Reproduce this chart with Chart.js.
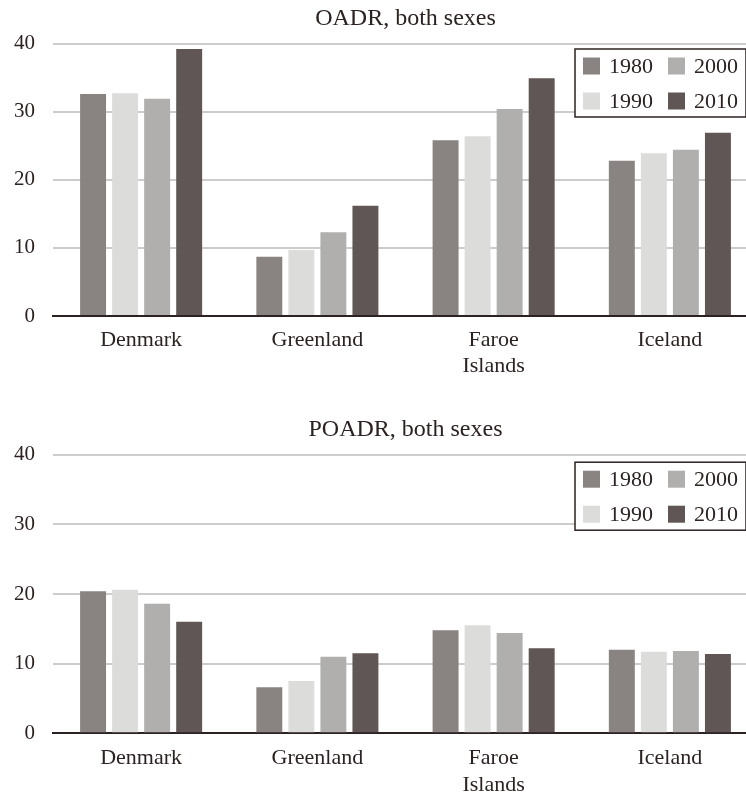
<!DOCTYPE html>
<html>
<head>
<meta charset="utf-8">
<title>OADR / POADR</title>
<script src="https://cdn.jsdelivr.net/npm/chart.js@4.4.1/dist/chart.umd.min.js"></script>
<style>
  html, body { margin: 0; padding: 0; background: #fff; overflow: hidden; width: 746px; height: 796px; }
  .wrap { position: absolute; left: 0; width: 760px; }
  #top { top: 0; height: 382px; }
  #bottom { top: 410px; height: 386px; }
</style>
</head>
<body>
<div class="wrap" id="top"><canvas id="oadr"></canvas></div>
<div class="wrap" id="bottom"><canvas id="poadr"></canvas></div>

<script>
// categories and series
const countries = ['Denmark', 'Greenland', ['Faroe', 'Islands'], 'Iceland'];
const years = ['1980', '1990', '2000', '2010'];
const colors = ['#898382', '#dcdcdb', '#b0afae', '#5f5655'];

const oadr1980 = [32.6, 8.7, 25.8, 22.8];
const oadr1990 = [32.7, 9.7, 26.4, 23.9];
const oadr2000 = [31.9, 12.3, 30.4, 24.4];
const oadr2010 = [39.2, 16.2, 34.9, 26.9];

const poadr1980 = [20.4, 6.6, 14.8, 12.0];
const poadr1990 = [20.6, 7.5, 15.5, 11.7];
const poadr2000 = [18.6, 11.0, 14.4, 11.8];
const poadr2010 = [16.0, 11.5, 12.2, 11.4];

const yTicks = [0, 10, 20, 30, 40];

const FONT = '"Liberation Serif", "DejaVu Serif", serif';
const INK = '#2b2221';

// legend box: two columns, 1980/2000 on top, 1990/2010 below
const boxLegend = {
  id: 'boxLegend',
  afterDraw(chart, args, opts) {
    const c = chart.ctx;
    const a = chart.chartArea;
    const w = 171, h = opts.h;
    const x0 = a.right - 12 - w, y0 = a.top + opts.dy;
    c.save();
    c.strokeStyle = INK;
    c.lineWidth = 1.5;
    c.fillStyle = '#fff';
    c.fillRect(x0, y0, w, h);
    c.strokeRect(x0, y0, w, h);
    c.font = '22px ' + FONT;
    c.textBaseline = 'middle';
    const order = [0, 2, 1, 3];
    order.forEach((di, k) => {
      const col = k % 2, row = Math.floor(k / 2);
      const sx = x0 + 8 + col * 85;
      const sy = y0 + 17 + row * 35;
      const ds = chart.data.datasets[di];
      c.fillStyle = ds.backgroundColor;
      c.fillRect(sx, sy - 8.5, 17, 17);
      c.fillStyle = INK;
      c.fillText(ds.label, sx + 26, sy + 1);
    });
    c.restore();
  }
};

function makeChart(id, title, series, lay) {
  return new Chart(document.getElementById(id), {
    type: 'bar',
    data: {
      labels: countries,
      datasets: years.map((y, i) => ({
        label: y,
        data: series[i],
        backgroundColor: colors[i],
        categoryPercentage: 0.727,
        barPercentage: 0.81
      }))
    },
    options: {
      responsive: true,
      maintainAspectRatio: false,
      animation: false,
      layout: { padding: { right: 2, bottom: lay.padBottom } },
      plugins: {
        legend: { display: false },
        tooltip: { enabled: false },
        title: {
          display: true,
          text: title,
          fullSize: false,
          color: INK,
          font: { family: FONT, size: 24, weight: 'normal', lineHeight: 1.2 },
          padding: { top: lay.titleTop, bottom: lay.titleBottom }
        },
        boxLegend: { dy: lay.legendDy, h: 68 }
      },
      scales: {
        x: {
          afterFit: (s) => { s.height = lay.axisH; },
          grid: { display: false, drawTicks: false },
          border: { display: true, color: INK, width: 2 },
          ticks: {
            color: INK,
            font: { family: FONT, size: 22, lineHeight: 1.2 },
            padding: lay.tickPad,
            maxRotation: 0,
            autoSkip: false
          }
        },
        y: {
          min: 0,
          max: 40,
          afterBuildTicks: (s) => { s.ticks = yTicks.map(v => ({ value: v })); },
          afterFit: (s) => { s.width = 53; },
          grid: { color: '#cccccc', lineWidth: 2, drawTicks: false },
          border: { display: false },
          ticks: {
            color: INK,
            font: { family: FONT, size: 21 },
            padding: 18
          }
        }
      }
    },
    plugins: [boxLegend]
  });
}

makeChart('oadr', 'OADR, both sexes', [oadr1980, oadr1990, oadr2000, oadr2010],
  { titleTop: 4, titleBottom: 10.7, axisH: 60, padBottom: 6, tickPad: 11, legendDy: 5.5 });
makeChart('poadr', 'POADR, both sexes', [poadr1980, poadr1990, poadr2000, poadr2010],
  { titleTop: 5, titleBottom: 10.9, axisH: 58, padBottom: 4.7, tickPad: 12, legendDy: 7.5 });
</script>
</body>
</html>
